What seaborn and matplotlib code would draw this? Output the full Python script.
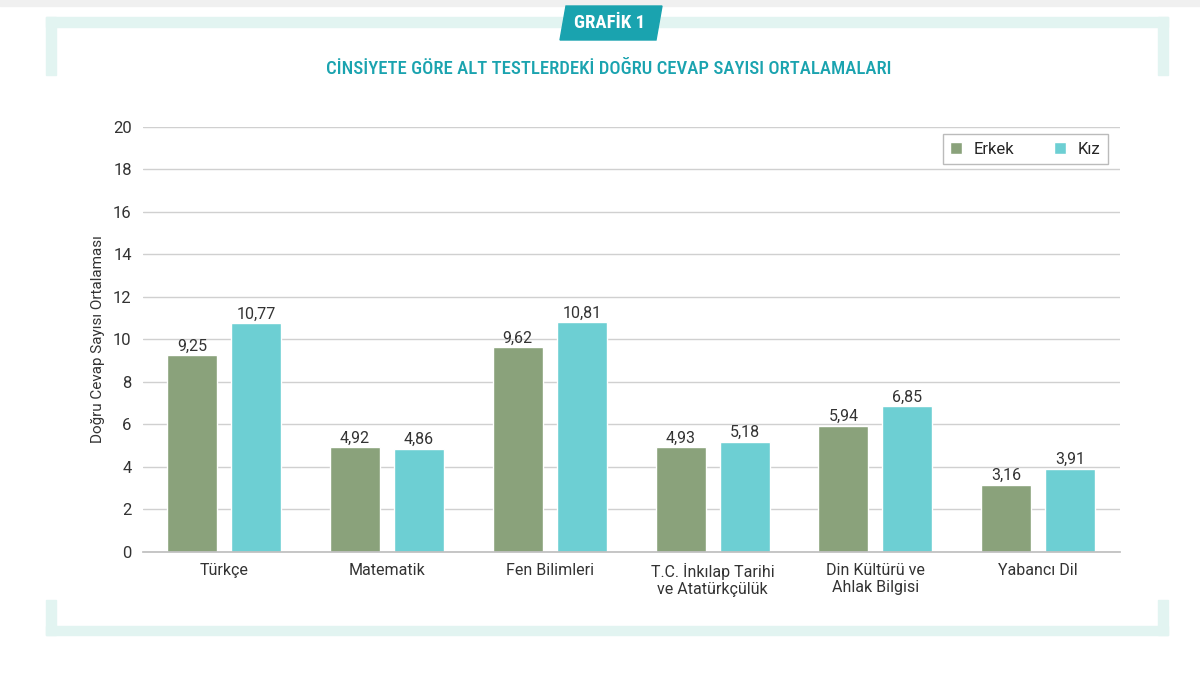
import matplotlib
matplotlib.use("Agg")
import matplotlib.pyplot as plt
import matplotlib.patches as mpatches
from matplotlib import font_manager
import seaborn as sns
import pandas as pd

categories = ["Türkçe", "Matematik", "Fen Bilimleri", "T.C. İnkılap Tarihi\nve Atatürkçülük",
              "Din Kültürü ve\nAhlak Bilgisi", "Yabancı Dil"]
erkek = [9.25, 4.92, 9.62, 4.93, 5.94, 3.16]
kiz = [10.77, 4.86, 10.81, 5.18, 6.85, 3.91]
series = ["Erkek", "Kız"]
yticks = [0, 2, 4, 6, 8, 10, 12, 14, 16, 18, 20]

df = pd.DataFrame({
    "Ders": categories * 2,
    "Cinsiyet": [series[0]] * len(categories) + [series[1]] * len(categories),
    "Değer": erkek + kiz,
})

sns.set_theme(style="white")
plt.rcParams["font.family"] = ["Roboto", "DejaVu Sans"]

# condensed fonts for titles, if available
cond_regular = None
cond_medium = None
cond_bold = None
for f in font_manager.fontManager.ttflist:
    name = f.fname.lower()
    if "condensed" in name and "oblique" not in name and "italic" not in name and "mono" not in name:
        base = name.rsplit("/", 1)[-1]
        if "medium" in base or "semibold" in base:
            cond_medium = f.fname
        elif "bold" in base:
            if cond_bold is None or "roboto" in base:
                cond_bold = f.fname
        elif "light" not in base and "thin" not in base and "black" not in base:
            if cond_regular is None or "roboto" in base:
                cond_regular = f.fname

fig = plt.figure(figsize=(12, 6.73), dpi=100)
ax = fig.add_axes([0.119, 0.18, 0.814, 0.632])

palette = {"Erkek": "#8AA27B", "Kız": "#6DCFD3"}
sns.barplot(data=df, x="Ders", y="Değer", hue="Cinsiyet", palette=palette,
            width=0.786, gap=0.22, ax=ax, legend=True, saturation=1)

for cont in ax.containers:
    labels = [f"{v:.2f}".replace(".", ",") for v in cont.datavalues]
    ax.bar_label(cont, labels=labels, padding=1, fontsize=11.5, color="#333333")

ax.set_ylim(0, 20)
ax.set_xlim(-0.5, 5.5)
ax.set_yticks(yticks)
ax.set_yticklabels([str(t) for t in yticks], fontsize=12, color="#333333")
ax.tick_params(axis="x", labelsize=11.5, colors="#333333", length=0, pad=8)
ax.tick_params(axis="y", length=0, pad=8)
ax.yaxis.grid(True, color="#D0D0D0", linewidth=1)
ax.set_axisbelow(True)
for s in ["top", "right", "left"]:
    ax.spines[s].set_visible(False)
ax.spines["bottom"].set_color("#BFBFBF")
ax.set_xlabel("")
ax.set_ylabel("Doğru Cevap Sayısı Ortalaması", fontsize=11, color="#333333", labelpad=6)

leg = ax.legend(loc="upper right", bbox_to_anchor=(0.988, 0.982), ncol=2, frameon=True,
                fontsize=12, handlelength=0.7, handleheight=0.7, columnspacing=2.4,
                handletextpad=0.7, borderpad=0.45, borderaxespad=0, fancybox=False,
                edgecolor="#AAAAAA")
leg.get_frame().set_linewidth(1)

# decorative frame
mint = "#E2F4F1"
W, H = 1200, 673
def rect(x0, y0, x1, y1, color):
    fig.patches.append(mpatches.Rectangle((x0 / W, 1 - y1 / H), (x1 - x0) / W, (y1 - y0) / H,
                                          transform=fig.transFigure, color=color, zorder=0))
rect(46, 17, 1168, 27, mint)
rect(46, 17, 56, 75, mint)
rect(1158, 17, 1168, 75, mint)
rect(46, 626, 1168, 635, mint)
rect(46, 600, 56, 635, mint)
rect(1158, 600, 1168, 635, mint)
rect(0, 0, 1200, 6, "#F0F0F0")

# badge
pts = [(560, 40), (566, 6), (662, 6), (656, 40)]
badge = mpatches.Polygon([(x / W, 1 - y / H) for x, y in pts], closed=True,
                         transform=fig.transFigure, color="#1AA3AF", zorder=2)
fig.patches.append(badge)

def fp(path, size, weight="normal"):
    if path:
        return font_manager.FontProperties(fname=path, size=size)
    return font_manager.FontProperties(family=["Roboto", "DejaVu Sans"], size=size * 0.85,
                                       weight=weight)

fig.text(610 / W, 1 - 23 / H, "GRAFİK 1", ha="center", va="center", color="white",
         fontproperties=fp(cond_bold, 13.5, "bold"), zorder=3)
title_font = cond_medium or cond_regular or cond_bold
fig.text(609 / W, 1 - 69 / H, "CİNSİYETE GÖRE ALT TESTLERDEKİ DOĞRU CEVAP SAYISI ORTALAMALARI",
         ha="center", va="center", color="#1AA3AF", fontproperties=fp(title_font, 13.5))

fig.savefig("out.png", dpi=100)
